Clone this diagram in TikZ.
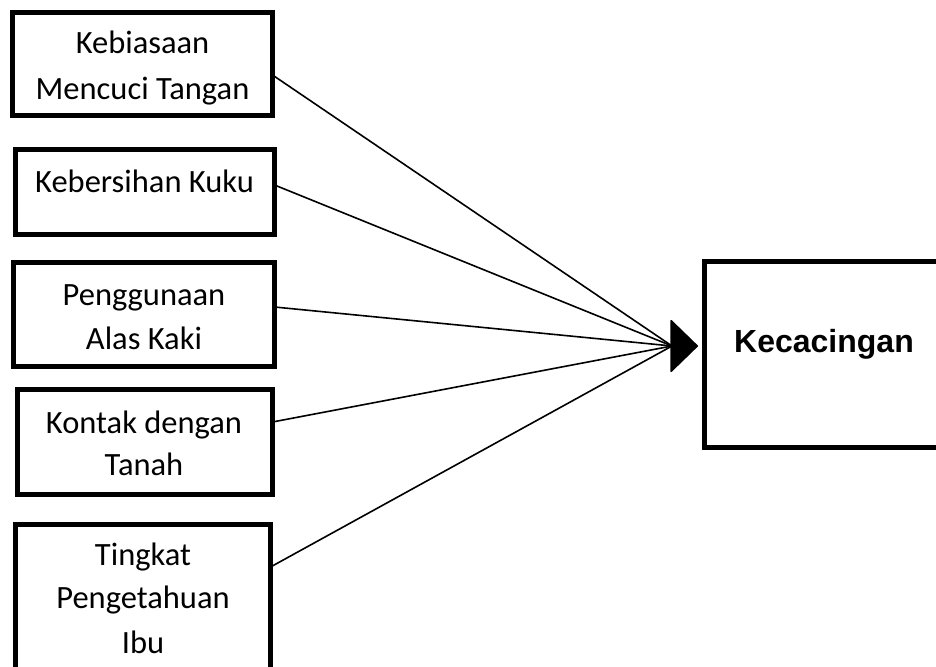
\documentclass[tikz,border=0pt]{standalone}
\usepackage{fontspec}
\setmainfont{Carlito}
\newfontfamily\arialbold{Liberation Sans}[BoldFont={Liberation Sans Bold}]
\usetikzlibrary{arrows.meta}
\begin{document}
\begin{tikzpicture}[x=1pt,y=-1pt,
  varbox/.style={draw=black,line width=5pt,rectangle,inner sep=0pt,outer sep=0pt},
  lbl/.style={anchor=base,inner sep=0pt,font=\fontsize{32.5}{40}\selectfont},
  conn/.style={line width=1.6pt,draw=black}]
\useasboundingbox (0,0) rectangle (936,666);
\clip (0,0) rectangle (936,666);
% boxes
\node[varbox,minimum width=260pt,minimum height=103pt] (b1) at (142.5,64) {};
\node[varbox,minimum width=259pt,minimum height=85pt] (b2) at (145,192) {};
\node[varbox,minimum width=261pt,minimum height=104pt] (b3) at (144,314.5) {};
\node[varbox,minimum width=255pt,minimum height=105pt] (b4) at (145,442) {};
\node[varbox,minimum width=255pt,minimum height=166pt] (b5) at (143,607) {};
\node[varbox,minimum width=270pt,minimum height=186pt] (k) at (839.5,354.5) {};
% texts
\node[lbl] (t1a) at (142.5,54) {Kebiasaan};
\node[lbl] (t1b) at (142.5,100) {Mencuci Tangan};
\node[lbl] (t2a) at (144.5,192) {Kebersihan Kuku};
\node[lbl] (t3a) at (144,305) {Penggunaan};
\node[lbl] (t3b) at (144,349) {Alas Kaki};
\node[lbl] (t4a) at (144,433) {Kontak dengan};
\node[lbl] (t4b) at (144,475) {Tanah};
\node[lbl] (t5a) at (143,565) {Tingkat};
\node[lbl] (t5b) at (143,608) {Pengetahuan};
\node[lbl] (t5c) at (143,653) {Ibu};
\node[anchor=base,inner sep=0pt,font=\arialbold\bfseries\fontsize{32}{38}\selectfont] (kt) at (824,352) {Kecacingan};
% connectors
\coordinate (conv) at (672,346);
\coordinate (tip) at (698,346);
\draw[conn] ([yshift=-11pt]b1.east) -- (conv);
\draw[conn] ([yshift=7pt]b2.east) -- (conv);
\draw[conn] ([yshift=7.5pt]b3.east) -- (conv);
\draw[conn] ([yshift=20pt]b4.east) -- (conv);
\draw[conn] ([yshift=40pt]b5.east) -- (conv);
\draw[conn,-{Triangle[length=28pt,width=54pt,round]}] (conv) -- (tip);
\end{tikzpicture}
\end{document}
